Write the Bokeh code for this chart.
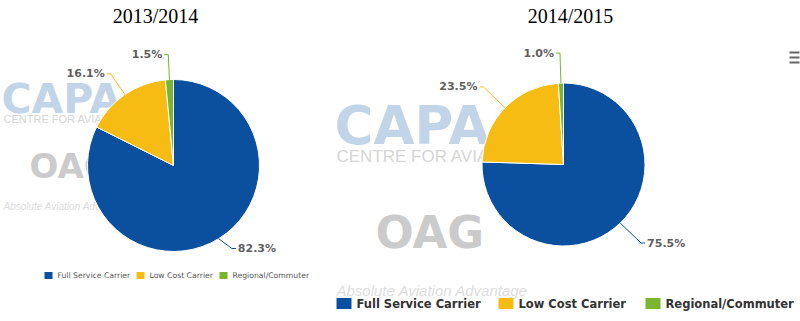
import math
from bokeh.plotting import figure
from bokeh.models import Range1d, ColumnDataSource
from bokeh.core.properties import value
from bokeh.embed import file_html
from bokeh.resources import INLINE

# ---------------- data ----------------
categories = ["Full Service Carrier", "Low Cost Carrier", "Regional/Commuter"]
colors = ["#0b509e", "#f6bc14", "#79b52e"]
titles = ["2013/2014", "2014/2015"]
share_2013_14 = [82.3, 16.1, 1.5]
share_2014_15 = [75.5, 23.5, 1.0]

W, H = 800, 321

# ---------------- layout (screen pixels, y downwards) ----------------
panels = [
    dict(title=titles[0], shares=share_2013_14, cx=173, cy=165, r=86, dist=25,
         title_x=155, title_y=15, label_size="11px",
         leg_y=275, leg_x=[44, 136, 219], sq_w=8, sq_h=7, leg_font="7.7px",
         leg_style="normal", leg_color="#555555", leg_gap=5,
         wm=dict(capa=(1, 98, "41px"), centre=(3, 118, "11px"), oag=(29, 165, "34px"),
                 absol=(3, 206, "10px"))),
    dict(title=titles[1], shares=share_2014_15, cx=563, cy=164, r=81.5, dist=30,
         title_x=570, title_y=15, label_size="11px",
         leg_y=303, leg_x=[336, 498, 645], sq_w=15, sq_h=11, leg_font="11.5px",
         leg_style="bold", leg_color="#333333", leg_gap=5,
         wm=dict(capa=(334, 125, "53px"), centre=(336, 156, "17px"), oag=(375, 232, "45px"),
                 absol=(336, 290, "15px"))),
]

p = figure(width=W, height=H, x_range=Range1d(0, W), y_range=Range1d(0, H),
           output_backend="svg", toolbar_location=None, min_border=0,
           x_axis_location=None, y_axis_location=None)
p.grid.visible = False
p.outline_line_color = None
p.background_fill_color = "white"
p.border_fill_color = "white"


def up(y):
    return H - y


for pn in panels:
    wm = pn["wm"]
    # watermark texts (drawn behind the pies)
    p.text(x=[wm["capa"][0]], y=[up(wm["capa"][1])], text=["CAPA"],
           text_font=value("DejaVu Sans"), text_font_style="bold",
           text_font_size=wm["capa"][2], text_color="#c2d4e7",
           text_baseline="middle", text_align="left")
    p.text(x=[wm["centre"][0]], y=[up(wm["centre"][1])], text=["CENTRE FOR AVIATION"],
           text_font=value("Liberation Sans"), text_font_size=wm["centre"][2],
           text_color="#d6d6d6", text_baseline="middle", text_align="left")
    p.text(x=[wm["oag"][0]], y=[up(wm["oag"][1])], text=["OAG"],
           text_font=value("DejaVu Sans"), text_font_style="bold",
           text_font_size=wm["oag"][2], text_color="#cbcbcb",
           text_baseline="middle", text_align="left")
    p.text(x=[wm["absol"][0]], y=[up(wm["absol"][1])], text=["Absolute Aviation Advantage"],
           text_font=value("Liberation Sans"), text_font_style="italic",
           text_font_size=wm["absol"][2], text_color="#dddddd",
           text_baseline="middle", text_align="left")

    # title
    p.text(x=[pn["title_x"]], y=[up(pn["title_y"])], text=[pn["title"]],
           text_font=value("Liberation Serif"), text_font_size="20px",
           text_color="#000000", text_align="center", text_baseline="middle")

    shares = pn["shares"]
    total = sum(shares)
    cum = 0.0
    starts, ends, mids = [], [], []
    for v in shares:
        f0 = cum / total
        cum += v
        f1 = cum / total
        starts.append(math.pi / 2 - 2 * math.pi * f0)
        ends.append(math.pi / 2 - 2 * math.pi * f1)
        mids.append((f0 + f1) / 2)

    cx, cy_up, r = pn["cx"], up(pn["cy"]), pn["r"]
    src = ColumnDataSource(dict(start=starts, end=ends, color=colors, cat=categories))
    p.wedge(x=cx, y=cy_up, radius=r, start_angle="start", end_angle="end",
            direction="clock", fill_color="color", line_color="white",
            line_width=1, source=src)

    # data labels with connectors
    xs, ys, lx, ly, txt, align = [], [], [], [], [], []
    for v, fm in zip(shares, mids):
        phi = 2 * math.pi * fm
        dx, dy = math.sin(phi), math.cos(phi)
        ex, ey = cx + r * dx, cy_up + r * dy
        ax, ay = cx + (r + pn["dist"]) * dx, cy_up + (r + pn["dist"]) * dy
        ay = max(ay, cy_up - r + 3)
        sgn = 1 if dx >= 0 else -1
        xs.append([ex, ax, ax + sgn * 4])
        ys.append([ey, ay, ay])
        lx.append(ax + sgn * 6)
        ly.append(ay)
        txt.append(f"{v:.1f}%")
        align.append("left" if sgn > 0 else "right")
    p.multi_line(xs=xs, ys=ys, line_color=colors, line_width=1)
    p.text(x=lx, y=ly, text=txt, text_align=align, text_baseline="middle",
           text_font=value("DejaVu Sans"), text_font_style="bold",
           text_font_size=pn["label_size"], text_color="#5f5f5f")

    # legend
    lxs = [x + pn["sq_w"] / 2 for x in pn["leg_x"]]
    p.rect(x=lxs, y=[up(pn["leg_y"])] * 3, width=pn["sq_w"], height=pn["sq_h"],
           fill_color=colors, line_color=None)
    p.text(x=[x + pn["sq_w"] + pn["leg_gap"] for x in pn["leg_x"]],
           y=[up(pn["leg_y"])] * 3, text=categories,
           text_font=value("DejaVu Sans"), text_font_style=pn["leg_style"],
           text_font_size=pn["leg_font"], text_color=pn["leg_color"],
           text_baseline="middle", text_align="left")

# menu icon (context button)
p.segment(x0=[789, 789, 789], y0=[up(52), up(57), up(62)],
          x1=[799, 799, 799], y1=[up(52), up(57), up(62)],
          line_color="#666666", line_width=2)

open("out.html", "w").write(file_html(p, INLINE))
